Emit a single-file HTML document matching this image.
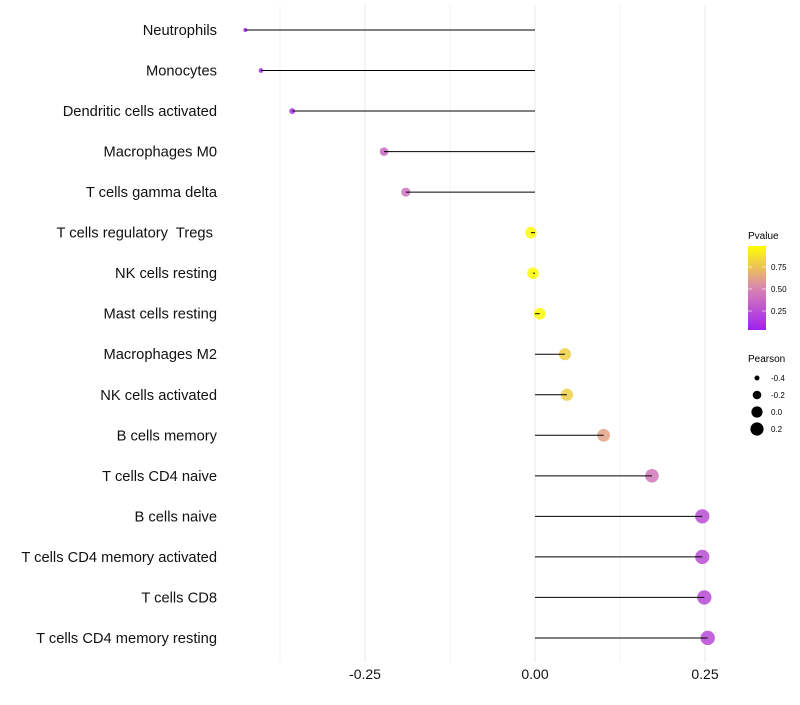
<!DOCTYPE html>
<html><head><meta charset="utf-8"><style>
body{margin:0;background:#fff}
svg text{font-family:"Liberation Sans",sans-serif;white-space:pre}
</style></head><body>
<svg id="c" width="800" height="700">
<defs><linearGradient id="pg" x1="0" y1="1" x2="0" y2="0">
<stop offset="0" stop-color="#A020F0"/><stop offset="0.5" stop-color="#D986B0"/><stop offset="1" stop-color="#FFFF00"/></linearGradient></defs>
<g id="grid"></g><g id="marks"></g><g id="labels"></g>
<g>
<text x="748" y="239" font-size="10">Pvalue</text>
<rect x="748" y="246" width="18" height="84" fill="url(#pg)"/>
<line x1="748" y1="267" x2="752" y2="267" stroke="#fff" opacity=".6"/><line x1="762" y1="267" x2="766" y2="267" stroke="#fff" opacity=".6"/>
<line x1="748" y1="289" x2="752" y2="289" stroke="#fff" opacity=".6"/><line x1="762" y1="289" x2="766" y2="289" stroke="#fff" opacity=".6"/>
<line x1="748" y1="311" x2="752" y2="311" stroke="#fff" opacity=".6"/><line x1="762" y1="311" x2="766" y2="311" stroke="#fff" opacity=".6"/>
<text x="771" y="270" font-size="8">0.75</text><text x="771" y="292" font-size="8">0.50</text><text x="771" y="314" font-size="8">0.25</text>
</g>
<g>
<text x="748" y="362" font-size="10">Pearson</text>
<circle cx="757" cy="378" r="2.5"/><text x="771" y="381" font-size="8">-0.4</text>
<circle cx="757" cy="395" r="4.3"/><text x="771" y="398" font-size="8">-0.2</text>
<circle cx="757" cy="412" r="5.6"/><text x="771" y="415" font-size="8">0.0</text>
<circle cx="757" cy="429" r="6.6"/><text x="771" y="432" font-size="8">0.2</text>
</g>
</svg>
<script>
const cells=["Neutrophils","Monocytes","Dendritic cells activated","Macrophages M0","T cells gamma delta","T cells regulatory  Tregs ","NK cells resting","Mast cells resting","Macrophages M2","NK cells activated","B cells memory","T cells CD4 naive","B cells naive","T cells CD4 memory activated","T cells CD8","T cells CD4 memory resting"];
const pearson=[-0.426,-0.403,-0.357,-0.222,-0.190,-0.006,-0.003,0.007,0.044,0.047,0.101,0.172,0.246,0.246,0.249,0.254];
const pvalue=[0.03,0.05,0.08,0.35,0.40,0.98,0.99,0.98,0.80,0.80,0.62,0.42,0.22,0.22,0.20,0.20];
const ticks=[-0.25,0,0.25];
const tickLabels=["-0.25","0.00","0.25"];
const NS="http://www.w3.org/2000/svg";
const X=v=>535+v*680, Y=i=>30+i*40.53;
const R=v=>Math.sqrt(4+Math.max(0,v+0.426)*70);
function lerp(a,b,t){return a.map((x,i)=>Math.round(x+(b[i]-x)*t));}
function col(p){const c0=[160,32,240],c1=[217,134,176],c2=[255,255,0];
 const c=p<0.5?lerp(c0,c1,p/0.5):lerp(c1,c2,(p-0.5)/0.5);return `rgb(${c})`;}
function mk(t,a,parent){const e=document.createElementNS(NS,t);for(const k in a)e.setAttribute(k,a[k]);parent.appendChild(e);return e;}
const g=document.getElementById('grid'),m=document.getElementById('marks'),l=document.getElementById('labels');
[-0.375,-0.25,-0.125,0,0.125,0.25].forEach(v=>{const ln=mk('line',{x1:X(v),x2:X(v),y1:5,y2:662,stroke:'#ebebeb','stroke-width':Math.abs(v*8)%2===0?1.1:0.6},g);

});
ticks.forEach((v,i)=>{const t=mk('text',{x:X(v),y:679,'font-size':14,'text-anchor':'middle',fill:'#111'},l);t.textContent=tickLabels[i];

});
cells.forEach((c,i)=>{
 const pt=mk('circle',{cx:X(pearson[i]),cy:Y(i),r:R(pearson[i]),fill:col(pvalue[i]),opacity:0.85},m);
 
 
 const s=mk('line',{x1:X(0),x2:X(pearson[i]),y1:Y(i),y2:Y(i),stroke:'#000','stroke-width':1},m);
 
 
 const t=mk('text',{x:217,y:Y(i)+5,'font-size':14.7,'text-anchor':'end',fill:'#111'},l);t.textContent=c;
 
 
});
</script>
</body></html>
